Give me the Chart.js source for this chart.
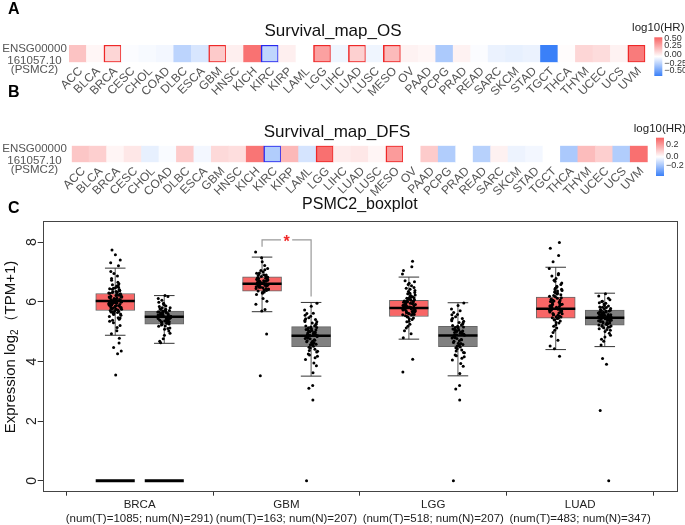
<!DOCTYPE html>
<html>
<head>
<meta charset="utf-8">
<script src="https://cdn.jsdelivr.net/npm/chart.js@4.4.0/dist/chart.umd.min.js"></script>
<style>
body { margin: 0; background: #fff; width: 685px; height: 525px; overflow: hidden; position: relative; }
.panel { position: absolute; left: 0; width: 685px; }
</style>
</head>
<body>
<div class="panel" style="top:0;height:110px"><canvas id="os"></canvas></div>
<div class="panel" style="top:84px;height:116px"><canvas id="dfs"></canvas></div>
<div class="panel" style="top:195px;height:330px"><canvas id="boxplot"></canvas></div>
<script>
// cancer types on the survival maps
const cancers = ['ACC','BLCA','BRCA','CESC','CHOL','COAD','DLBC','ESCA','GBM','HNSC','KICH','KIRC','KIRP','LAML','LGG','LIHC','LUAD','LUSC','MESO','OV','PAAD','PCPG','PRAD','READ','SARC','SKCM','STAD','TGCT','THCA','THYM','UCEC','UCS','UVM'];
// log10(HR)
const osHR = [0.19,0.03,0.13,-0.01,-0.02,-0.03,-0.17,-0.1,0.17,0.05,0.45,-0.16,0.05,0.0,0.3,-0.04,0.15,-0.04,0.22,0.04,0.03,-0.21,0.04,-0.01,-0.05,-0.06,-0.05,-0.5,0.01,0.13,0.11,0.04,0.42];
const dfsHR = [0.12,0.1,0.02,0.05,-0.04,-0.01,0.11,-0.02,0.08,0.07,0.29,-0.13,0.15,-0.07,0.3,0.04,0.05,0.02,0.21,0.0,0.11,-0.13,0.0,-0.12,0.03,-0.03,-0.02,0.0,-0.14,0.14,0.1,-0.13,0.3];
// 1 = significant high risk (red frame), -1 = significant low risk (blue frame)
const osSig = [0,0,1,0,0,0,0,0,1,0,0,-1,0,0,1,0,1,0,1,0,0,0,0,0,0,0,0,0,0,0,0,0,1];
const dfsSig = [0,0,0,0,0,0,0,0,0,0,0,-1,0,0,1,0,0,0,1,0,0,0,0,0,0,0,0,0,0,0,0,0,0];
const osLegend = ['0.50','0.25','0.00','\u22120.25','\u22120.50'];
const dfsLegend = ['0.2','0.0','\u22120.2'];

// boxplot
const groups = ['BRCA','GBM','LGG','LUAD'];
const numT = [1085,163,518,483];
const numN = [291,207,207,347];
const yTicks = [0,2,4,6,8];
// [lower whisker, q1, median, q3, upper whisker]
const tumorStats = [[4.88,5.71,6.03,6.28,7.13],[5.67,6.36,6.61,6.84,7.50],[4.75,5.51,5.79,6.05,6.83],[4.40,5.45,5.77,6.16,7.16]];
const normalStats = [[4.61,5.25,5.50,5.69,6.21],[3.51,4.50,4.86,5.17,5.98],[3.52,4.50,4.87,5.18,5.97],[4.50,5.22,5.47,5.72,6.29]];
const brcaT = [6.12,5.84,6.41,5.63,6.02,7.74,5.97,6.27,5.51,6.66,5.79,6.08,4.93,6.35,5.92,7.21,5.70,6.18,5.38,6.53,6.01,5.86,4.47,6.24,5.66,6.87,5.99,5.21,6.31,7.58,5.75,6.14,5.47,6.04,4.78,6.44,5.88,6.72,5.59,6.09,4.26,5.94,6.38,5.30,6.21,7.02,5.81,6.57,5.68,6.00,5.14,6.29,7.40,5.90,6.47,4.62,6.16,5.73,6.95,5.55,6.06,5.03,6.34,5.96,7.31,5.42,6.11,4.35,5.77,3.55,
  6.05,5.89,6.22,5.61,6.37,5.98,5.74,6.13,6.49,5.83,6.01,5.67,6.26,5.93,6.61,5.58,6.18,5.79,6.33,6.07,5.46,6.42,5.86,6.15,5.71,6.55,5.95,6.24,5.35,6.10,6.78,5.81,6.03,5.64,6.30,5.91,6.46,5.76,6.19,5.99];
const brcaN = [5.52,5.31,5.68,5.44,6.18,5.59,5.12,5.77,5.40,5.95,5.26,5.63,4.88,5.49,5.84,5.35,6.05,5.57,5.18,5.71,4.63,5.46,5.90,5.29,5.66,5.02,5.54,6.21,5.38,5.80,5.22,5.61,4.76,5.47,5.99,5.33,5.74,5.08,5.51,6.11,5.42,5.69,4.95,5.58,5.86,5.24,5.64,4.68,5.37,5.55,
  5.47,5.62,5.36,5.71,5.53,5.28,5.80,5.44,5.58,5.19,5.67,5.41,5.92,5.50,5.33,5.75,5.56,5.11,5.64,5.45];
const gbmT = [6.62,6.81,6.45,7.05,6.57,6.93,6.29,6.72,6.51,7.22,6.68,6.38,6.88,6.11,6.75,6.55,7.48,6.43,6.97,6.64,5.92,6.79,6.49,7.12,6.60,6.33,6.85,6.02,6.70,7.34,6.41,6.77,5.74,6.66,6.90,6.25,7.01,6.53,6.83,5.69,6.59,7.67,4.92,3.52,6.47,
  6.58,6.73,6.49,6.87,6.63,6.40,6.96,6.54,6.78,6.31,6.69,6.45,7.08,6.61,6.82,6.36,6.71,6.52,6.91,6.66];
const gbmN = [4.86,5.12,4.55,5.38,4.71,5.01,4.32,5.61,4.93,4.45,5.24,4.79,5.85,4.18,5.07,4.62,5.47,4.98,4.07,5.29,4.84,3.86,5.16,4.51,5.73,4.90,4.37,5.04,4.66,5.95,4.25,5.20,4.76,3.62,5.43,4.58,4.96,5.10,4.41,5.55,3.95,4.88,5.33,4.70,3.20,3.10,2.71,0.00,4.13,5.00,
  4.84,5.09,4.63,5.27,4.77,4.97,4.48,5.41,4.90,4.58,5.19,4.73,5.52,4.34,5.03,4.68,5.34,4.94,4.22,5.14,4.81,5.62,4.56,5.06,4.87];
const lggT = [5.82,6.03,5.61,6.27,5.74,5.95,5.43,6.48,5.88,5.56,6.12,5.79,6.71,5.25,5.99,5.68,6.35,5.91,5.12,6.19,5.77,7.36,5.50,6.07,5.85,4.93,6.58,5.71,6.00,5.35,6.23,5.80,7.18,5.64,5.97,4.80,6.42,5.89,5.58,6.10,5.76,6.93,5.46,6.04,5.83,5.03,6.31,5.70,5.94,5.18,6.15,7.05,5.87,5.53,6.62,4.08,3.65,5.79,6.00,5.66,
  5.86,6.08,5.64,6.21,5.77,5.97,5.49,6.38,5.92,5.60,6.14,5.73,6.54,5.33,6.02,5.81,6.29,5.89,5.41,6.11,5.69,6.46,5.95,5.57,6.17,5.84,6.67,5.75,6.05,5.62];
const lggN = [4.88,5.14,4.52,5.41,4.73,5.03,4.30,5.64,4.95,4.43,5.26,4.80,5.88,4.16,5.09,4.60,5.50,4.99,4.05,5.31,4.85,3.84,5.18,4.49,5.76,4.92,4.35,5.06,4.64,5.96,4.22,5.22,4.77,3.60,5.45,4.57,4.97,5.12,4.39,5.57,3.93,4.90,5.35,4.68,3.20,3.08,2.71,0.00,4.11,5.01,
  4.91,5.07,4.61,5.30,4.79,4.99,4.46,5.44,4.87,4.55,5.21,4.74,5.58,4.29,5.05,4.70,5.37,4.96,4.19,5.16,4.83,5.70,4.52,5.02,4.89];
const luadT = [5.78,6.09,5.52,6.33,5.69,5.97,5.31,6.58,5.86,5.45,6.21,5.74,6.87,5.12,6.01,5.63,6.46,5.92,4.97,6.26,5.71,7.99,5.40,6.14,5.83,4.71,6.69,5.66,6.05,5.23,6.38,5.80,7.55,5.58,5.94,4.52,6.52,5.88,5.49,6.17,5.75,7.12,5.36,6.03,5.82,4.85,6.42,5.61,5.99,5.05,6.29,7.80,5.90,5.47,6.78,4.18,5.76,6.95,4.43,5.68,
  5.81,6.12,5.57,6.36,5.72,6.01,5.39,6.63,5.92,5.50,6.24,5.66,6.91,5.18,6.06,5.78,6.49,5.87,5.29,6.31,5.60,7.34,5.44,6.19,5.84,6.72,5.70,6.08,5.55,6.41];
const luadN = [5.48,5.21,5.66,5.37,6.12,5.55,5.05,5.74,5.31,5.93,5.16,5.60,4.82,5.44,5.83,5.27,6.02,5.52,5.10,5.69,4.55,5.41,5.88,5.24,5.63,4.95,5.50,6.27,5.34,5.78,5.18,5.58,4.68,5.46,5.97,5.29,5.71,5.01,5.47,6.20,5.39,5.65,4.88,5.53,5.81,4.10,3.91,2.36,0.00,5.13,5.57,4.75,5.43,6.07,5.22,
  5.51,5.33,5.69,5.42,5.95,5.58,5.15,5.77,5.38,5.62,5.25,5.49,5.86,5.30,5.72,5.45,5.07,5.60,5.36,6.01,5.54,5.19,5.66,5.40,5.82];
const tumorPoints = [brcaT, gbmT, lggT, luadT];
const normalPoints = [brcaN, gbmN, lggN, luadN];
// horizontal spread of the dots
const jitter = [0.012,-0.031,0.027,-0.008,0.041,-0.022,0.003,0.035,-0.040,0.018,-0.014,0.030,-0.026,0.007,-0.036,0.022,-0.003,0.044,-0.018,0.010,-0.042,0.025,-0.011,0.038,-0.029,0.015,-0.005,0.033,-0.020,0.001,0.043,-0.034,0.020,-0.016,0.028,-0.038,0.008,-0.025,0.036,-0.002,0.016,-0.044,0.031,-0.012,0.005,-0.030,0.040,-0.019,0.024,-0.007,0.013,-0.037,0.034,-0.023,0.002,0.026,-0.041,0.019,-0.009,0.039,-0.027,0.011,-0.015];
const zeroLineGroups = [0]; // BRCA has a flat bar at 0 for both boxes
const sigGroup = 1; // GBM star
const bracketTop = 8.08;

Chart.defaults.font.family = 'Arial, "Liberation Sans", sans-serif';
Chart.defaults.color = '#222';

function heatColor(v, max) {
  let t = Math.max(-1, Math.min(1, v / max));
  let c = t >= 0 ? [248, 98, 98] : [58, 128, 248];
  let a = Math.abs(t);
  return 'rgb(' + c.map(k => Math.round(255 + (k - 255) * a)).join(',') + ')';
}

function heatmap(id, values, sig, max, o) {
  new Chart(document.getElementById(id), {
    type: 'bar',
    data: {
      labels: cancers,
      datasets: [{
        data: cancers.map(() => [0, 1]),
        backgroundColor: values.map(v => heatColor(v, max)),
        borderColor: sig.map(s => s > 0 ? 'rgb(238,40,40)' : s < 0 ? 'rgb(40,40,238)' : 'rgba(0,0,0,0)'),
        borderWidth: sig.map(s => s ? 1.5 : 0),
        borderSkipped: false,
        categoryPercentage: 1,
        barPercentage: 1
      }]
    },
    options: {
      responsive: true, maintainAspectRatio: false, animation: false,
      layout: { padding: { left: o.left, right: o.right, top: o.top, bottom: 0 } },
      plugins: { legend: { display: false }, tooltip: { enabled: false } },
      scales: {
        x: {
          grid: { display: false, drawTicks: false }, border: { display: false },
          ticks: { color: '#555', font: { size: 12 }, minRotation: 45, maxRotation: 45, padding: 2, labelOffset: 3, autoSkip: false },
          afterFit: s => { s.height = o.axisH; }
        },
        y: { display: false, min: 0, max: 1 }
      }
    },
    plugins: [{
      id: 'heatText',
      afterDraw(chart) {
        const ctx = chart.ctx;
        ctx.save();
        ctx.textBaseline = 'middle';
        ctx.fillStyle = '#000';
        ctx.font = 'bold 16px Arial, "Liberation Sans"';
        ctx.textAlign = 'left';
        ctx.fillText(o.letter, 8, o.letterY);
        ctx.font = '17px Arial, "Liberation Sans"';
        ctx.textAlign = 'center';
        ctx.fillStyle = '#111';
        ctx.fillText(o.title, o.titleX, o.titleY);
        ctx.font = '11.5px Arial, "Liberation Sans"';
        ctx.fillStyle = '#555';
        ['ENSG00000', '161057.10', '(PSMC2)'].forEach((t, i) => ctx.fillText(t, 34.5, o.geneY[i]));
        // colour key
        ctx.fillStyle = '#222';
        ctx.fillText('log10(HR)', o.keyX + 4, o.keyTitleY);
        const g = ctx.createLinearGradient(0, o.keyY, 0, o.keyY + o.keyH);
        g.addColorStop(0, heatColor(max, max));
        g.addColorStop(0.5, '#fff');
        g.addColorStop(1, heatColor(-max, max));
        ctx.fillStyle = g;
        ctx.fillRect(o.keyX, o.keyY, 8, o.keyH);
        ctx.font = '9px Arial, "Liberation Sans"';
        ctx.textAlign = 'left';
        ctx.fillStyle = '#333';
        o.keyLabels.forEach((t, i) => ctx.fillText(t, o.keyX + 10, o.keyLabelY[i]));
        ctx.restore();
      }
    }]
  });
}

heatmap('os', osHR, osSig, 0.5, {
  left: 69, right: 39.7, top: 45, axisH: 47.7,
  letter: 'A', letterY: 10, title: 'Survival_map_OS', titleX: 333, titleY: 31,
  geneY: [49, 60.5, 70],
  keyX: 654.3, keyY: 37.3, keyH: 38.7, keyTitleY: 28,
  keyLabels: osLegend, keyLabelY: [38.5, 45.5, 54.5, 63.5, 71]
});
heatmap('dfs', dfsHR, dfsSig, 0.33, {
  left: 71.7, right: 37.3, top: 61.7, axisH: 37.7,
  letter: 'B', letterY: 9, title: 'Survival_map_DFS', titleX: 337, titleY: 48,
  geneY: [65, 76.5, 86],
  keyX: 656, keyY: 53.7, keyH: 38.3, keyTitleY: 44.5,
  keyLabels: dfsLegend, keyLabelY: [61, 72.7, 82]
});

// ---- boxplot ----
const tOff = -0.166, nOff = 0.168, boxHalf = 0.133, capHalf = 0.07;
function seg(list, x1, y1, x2, y2) { list.push({ x: x1, y: y1 }, { x: x2, y: y2 }, { x: x2, y: null }); }

const boxes = [], boxColors = [], medians = [], caps = [], stems = [], dots = [], zeros = [], bracket = [];
groups.forEach((g, i) => {
  [[tumorStats[i], tOff, tumorPoints[i], 'rgb(248,102,102)', 0], [normalStats[i], nOff, normalPoints[i], 'rgb(128,128,128)', 17]].forEach(([s, off, pts, col, shift]) => {
    const cx = i + off;
    boxes.push({ x: cx, y: [s[1], s[3]] });
    boxColors.push(col);
    seg(medians, cx - boxHalf, s[2], cx + boxHalf, s[2]);
    seg(caps, cx - capHalf, s[0], cx + capHalf, s[0]);
    seg(caps, cx - capHalf, s[4], cx + capHalf, s[4]);
    seg(stems, cx, s[3], cx, s[4]);
    seg(stems, cx, s[0], cx, s[1]);
    pts.forEach((y, k) => dots.push({ x: cx + jitter[(k + shift) % jitter.length], y: y }));
    if (zeroLineGroups.includes(i)) seg(zeros, cx - boxHalf, 0, cx + boxHalf, 0);
  });
});
{
  const xl = sigGroup + tOff, xr = sigGroup + nOff, xm = (xl + xr) / 2;
  bracket.push({ x: xl, y: tumorStats[sigGroup][4] + 0.35 }, { x: xl, y: bracketTop }, { x: xm - 0.038, y: bracketTop }, { x: xm - 0.038, y: null });
  bracket.push({ x: xm + 0.038, y: bracketTop }, { x: xr, y: bracketTop }, { x: xr, y: normalStats[sigGroup][4] + 0.2 });
}

const lineDs = (data, color, width, order) => ({
  type: 'line', data: data, borderColor: color, borderWidth: width, pointRadius: 0,
  fill: false, spanGaps: false, tension: 0, order: order
});

new Chart(document.getElementById('boxplot'), {
  type: 'scatter',
  data: {
    datasets: [
      { type: 'scatter', data: dots, pointRadius: 1.5, pointBackgroundColor: '#000', pointBorderWidth: 0, order: 0 },
      lineDs(medians, '#000', 2.5, 1),
      lineDs(zeros, '#000', 3, 1),
      lineDs(caps, '#333', 1, 2),
      lineDs(bracket, '#999', 1.2, 2),
      lineDs(stems, '#555', 1, 3),
      { type: 'bar', data: boxes, backgroundColor: boxColors, borderColor: '#666', borderWidth: 1, borderSkipped: false, barThickness: 39, grouped: false, order: 4 }
    ]
  },
  options: {
    responsive: true, maintainAspectRatio: false, animation: false,
    layout: { padding: { left: 0, right: 8, top: 25.7, bottom: 0 } },
    plugins: { legend: { display: false }, tooltip: { enabled: false } },
    scales: {
      x: {
        type: 'linear', min: -0.66, max: 3.66, offset: false,
        afterBuildTicks: s => { s.ticks = groups.map((g, i) => ({ value: i })); },
        ticks: {
          autoSkip: false, maxRotation: 0, padding: 3, color: '#222',
          font: { size: 11.5, lineHeight: 1.15 },
          callback: v => [groups[v], '(num(T)=' + numT[v] + '; num(N)=' + numN[v] + ')']
        },
        grid: { drawOnChartArea: false, tickLength: 5, tickColor: '#333' },
        border: { display: false },
        afterFit: s => { s.height = 34.3; }
      },
      y: {
        min: -0.33, max: 8.72,
        afterBuildTicks: s => { s.ticks = yTicks.map(v => ({ value: v })); },
        ticks: { display: false },
        grid: { drawOnChartArea: false, tickLength: 5, tickColor: '#333' },
        border: { display: false },
        afterFit: s => { s.width = 42.7; }
      }
    }
  },
  plugins: [{
    id: 'boxText',
    afterDraw(chart) {
      const ctx = chart.ctx, a = chart.chartArea;
      const xs = chart.scales.x, ys = chart.scales.y;
      ctx.save();
      ctx.strokeStyle = '#444';
      ctx.lineWidth = 1;
      ctx.strokeRect(Math.round(a.left) + 0.5, Math.round(a.top) + 0.5, Math.round(a.right - a.left), Math.round(a.bottom - a.top));
      ctx.textBaseline = 'middle';
      ctx.fillStyle = '#000';
      ctx.font = 'bold 16px Arial, "Liberation Sans"';
      ctx.fillText('C', 8, 14);
      ctx.font = '16px Arial, "Liberation Sans"';
      ctx.textAlign = 'center';
      ctx.fillStyle = '#111';
      ctx.fillText('PSMC2_boxplot', (a.left + a.right) / 2, 10);
      // star over GBM
      const xm = xs.getPixelForValue(sigGroup + (tOff + nOff) / 2);
      ctx.fillStyle = 'rgb(240,40,40)';
      ctx.font = 'bold 16px Arial, "Liberation Sans"';
      ctx.fillText('*', xm, ys.getPixelForValue(bracketTop) + 3);
      // y tick labels, turned like the R axis
      ctx.fillStyle = '#222';
      ctx.font = '14px Arial, "Liberation Sans"';
      yTicks.forEach(v => {
        ctx.save();
        ctx.translate(a.left - 11, ys.getPixelForValue(v));
        ctx.rotate(-Math.PI / 2);
        ctx.fillText(String(v), 0, 0);
        ctx.restore();
      });
      // y title: Expression log2 (TPM+1)
      ctx.translate(11, 152);
      ctx.rotate(-Math.PI / 2);
      ctx.fillStyle = '#111';
      const big = '15px Arial, "Liberation Sans"', small = '10px Arial, "Liberation Sans"';
      const p1 = 'Expression log', p2 = '2', p3 = '\uFF08TPM+1)';
      ctx.font = big; const w1 = ctx.measureText(p1).width, w3 = ctx.measureText(p3).width;
      ctx.font = small; const w2 = ctx.measureText(p2).width;
      let x = -(w1 + w2 + w3) / 2;
      ctx.textAlign = 'left';
      ctx.font = big; ctx.fillText(p1, x, 0); x += w1;
      ctx.font = small; ctx.fillText(p2, x, 4); x += w2;
      ctx.font = big; ctx.fillText(p3, x, 0);
      ctx.restore();
    }
  }]
});
</script>
</body>
</html>
